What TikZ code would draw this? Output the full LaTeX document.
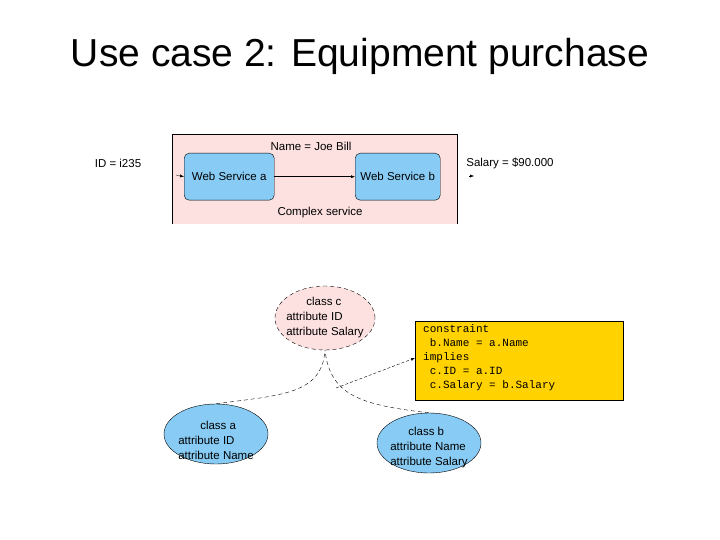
\documentclass[tikz,border=0pt]{standalone}
\usepackage{fontspec}
\setmainfont{Liberation Sans}
\setmonofont{Liberation Mono}
\usetikzlibrary{shapes.geometric,arrows.meta}
\definecolor{pinkf}{HTML}{FDE0E0}
\definecolor{bluef}{HTML}{88CCF5}
\definecolor{yel}{HTML}{FFD200}
\tikzset{
 lbl/.style={font=\fontsize{11.5}{13}\selectfont, inner sep=0pt},
 ws/.style={draw, fill=bluef, rounded corners=5pt, minimum width=90pt, minimum height=47pt, anchor=north west, inner sep=0pt},
 cls/.style={ellipse, draw, inner sep=0pt, minimum width=104pt, minimum height=60pt},
 clt/.style={font=\fontsize{11.5}{15}\selectfont, align=left, inner sep=0pt},
 dsh/.style={dashed, dash pattern=on 4pt off 3pt},
}
\begin{document}
\begin{tikzpicture}[x=1pt,y=-1pt]
\useasboundingbox (0,0) rectangle (720,540);
\node[font=\fontsize{39}{44}\selectfont] (title) at (360,56) {Use case 2: Equipment purchase};
\fill[pinkf] (172,134) rectangle (457,224);
\draw (172,224) -- (172,134) -- (457,134) -- (457,224);
\node[lbl] (nm) at (311,146) {Name = Joe Bill};
\node[ws] (wa) at (184,153) {};
\node[lbl] at (wa.center) {Web Service a};
\node[ws, minimum width=85pt] (wb) at (355,153) {};
\node[lbl] at (wb.center) {Web Service b};
\draw[-{Latex[length=4pt]}] (wa.east) -- (wb.west);
\coordinate (ain) at (176,175);
\draw[-{Latex[length=4pt]}, line width=0.3pt] (ain) -- (wa.west);
\node[lbl] (cs) at (320,213) {Complex service};
\node[lbl] (id) at (118,163) {ID = i235};
\node[lbl] (sal) at (510,163) {Salary = \$90.000};
\coordinate (s1) at (469,176);
\coordinate (s2) at (474,176);
\draw[-{Latex[length=4pt]}, line width=0.3pt] (s1) -- (s2);
\node[cls, fill=pinkf, dsh, minimum width=100pt, minimum height=64pt] (c) at (325,318) {};
\node[clt] at (c.center) {\hspace*{20pt}class c\\attribute ID\\attribute Salary};
\node[draw, fill=yel, anchor=north west, minimum width=208pt, minimum height=79pt, inner sep=0pt] (k) at (415,321) {};
\node[anchor=north west, font=\ttfamily\fontsize{11}{14.2}\selectfont, align=left, inner sep=0pt] at (423,324) {constraint\\\ b.Name = a.Name\\implies\\\ c.ID = a.ID\\\ c.Salary = b.Salary};
\node[cls, fill=bluef] (a) at (216,434) {};
\node[clt] at ([yshift=-6pt]a.center) {\hspace*{22pt}class a\\attribute ID\\attribute Name};
\node[cls, fill=bluef] (b) at (429,443) {};
\node[clt] at ([yshift=-5pt]b.center) {\hspace*{18pt}class b\\attribute Name\\attribute Salary};
\draw[dsh] (a.north) .. controls (280,395) and (322,395) .. (c.south);
\draw[dsh] (b.north) .. controls (360,405) and (330,395) .. (c.south);
\coordinate (d1) at (336,388);
\draw[dash pattern=on 3pt off 2pt, -{Latex[length=4pt]}] (d1) -- (k.west |- 0,358);
\end{tikzpicture}
\end{document}
